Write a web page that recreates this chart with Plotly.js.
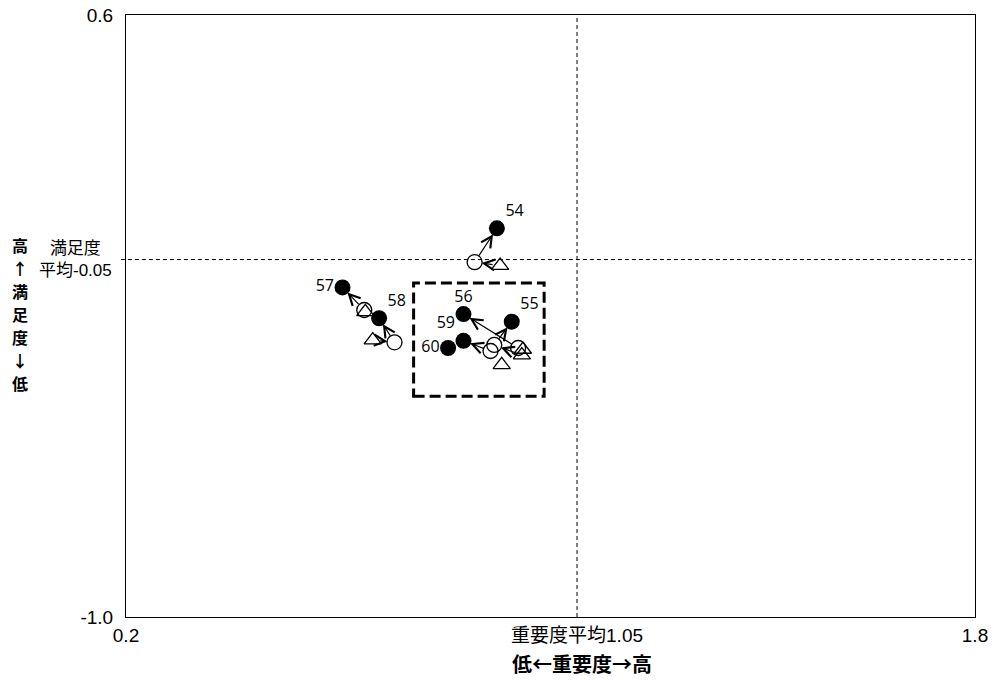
<!DOCTYPE html>
<html>
<head>
<meta charset="utf-8">
<script src="https://cdn.plot.ly/plotly-3.0.1.min.js"></script>
<style>html,body{margin:0;padding:0;background:#fff;}#chart{width:997px;height:680px;}</style>
</head>
<body>
<div id="chart"></div>
<script>
// Item labels
const labels = ['54','55','56','57','58','59','60'];
// Current year (filled circles)
const curX = [0.899, 0.927, 0.836, 0.608, 0.677, 0.836, 0.807];
const curY = [0.033, -0.215, -0.195, -0.124, -0.206, -0.266, -0.285];
// Previous year (open circles)
const prevX = [0.857, 0.894, 0.939, 0.649, 0.706, 0.887, null];
const prevY = [-0.057, -0.277, -0.285, -0.184, -0.270, -0.293, null];
// Two years ago (open triangles)
const prev2X = [0.905, 0.946, 0.948, 0.651, 0.665, 0.908, null];
const prev2Y = [-0.066, -0.304, -0.289, -0.189, -0.264, -0.330, null];
const labelPos = ['top right','top right','top center','middle left','top right','top left','middle left'];
// Averages and axis ranges
const avgX = 1.05, avgY = -0.05;
const xRange = [0.2, 1.8], yRange = [-1.0, 0.6];
const xTickVals = [0.2, 1.05, 1.8];
const xTickText = ['0.2', '重要度平均1.05', '1.8'];
const yTickVals = [0.6, -1.0];
const yTickText = ['0.6', '-1.0'];
const yAvgText = '満足度<br>平均-0.05';
const yTitleChars = ['高','↑','満','足','度','↓','低'];
const xTitle = '低←重要度→高';
// Focus box
const boxX = [0.742, 0.988], boxY = [-0.413, -0.112];

const FONT = 'Liberation Sans, Arial, Noto Sans CJK JP, sans-serif';
const traces = [
  {x: prev2X, y: prev2Y, mode: 'markers', type: 'scatter',
   marker: {symbol: 'triangle-up-open', size: 15, color: '#000', line: {width: 1.3}}},
  {x: prevX, y: prevY, mode: 'markers', type: 'scatter',
   marker: {symbol: 'circle-open', size: 15, color: '#000', line: {width: 1.3, color: '#000'}}},
  {x: curX, y: curY, mode: 'markers', type: 'scatter',
   marker: {symbol: 'circle', size: 16, color: '#000'}},
  {x: curX, y: curY, mode: 'markers+text', type: 'scatter', text: labels,
   textposition: labelPos, textfont: {family: 'Open Sans, sans-serif', size: 16, color: '#000'},
   marker: {symbol: 'circle', size: 12, color: 'rgba(0,0,0,0)'}},
];

const annotations = [];
function arrow(x0, y0, x1, y1) {
  if (x0 == null || x1 == null) return;
  annotations.push({x: x1, y: y1, ax: x0, ay: y0, xref: 'x', yref: 'y', axref: 'x', ayref: 'y',
    showarrow: true, arrowhead: 5, arrowsize: 1.8, arrowwidth: 1.2, arrowcolor: '#000',
    standoff: 7, startstandoff: 6, text: ''});
}
for (let i = 0; i < labels.length; i++) {
  arrow(prev2X[i], prev2Y[i], prevX[i], prevY[i]);
  arrow(prevX[i], prevY[i], curX[i], curY[i]);
}
annotations.push({xref: 'paper', yref: 'y', x: -0.060, y: avgY, text: yAvgText,
  showarrow: false, xanchor: 'center', yanchor: 'middle', align: 'center',
  font: {family: FONT, size: 17, color: '#000'}});
const titleYs = [0.6185, 0.5803, 0.5421, 0.5039, 0.4657, 0.4275, 0.3893];
yTitleChars.forEach((c, i) => {
  annotations.push({xref: 'paper', yref: 'paper', x: -0.125, y: titleYs[i],
    text: '<b>' + c + '</b>', showarrow: false, xanchor: 'center', yanchor: 'middle',
    font: {family: 'Noto Sans CJK JP, sans-serif', size: 16, color: '#000'}});
});
annotations.push({xref: 'paper', yref: 'paper', x: 0.537, y: -0.077,
  text: '<b>' + xTitle + '</b>', showarrow: false, xanchor: 'center', yanchor: 'middle',
  font: {family: 'Noto Sans CJK JP, sans-serif', size: 20, color: '#000'}});

const shapes = [
  {type: 'line', xref: 'x', yref: 'y', x0: avgX, x1: avgX, y0: yRange[0], y1: yRange[1],
   line: {color: '#000', width: 1, dash: '4px,3px'}},
  {type: 'line', xref: 'paper', yref: 'y', x0: -0.006, x1: 1, y0: avgY, y1: avgY,
   line: {color: '#000', width: 1, dash: '4px,3px'}},
  {type: 'rect', xref: 'x', yref: 'y', x0: boxX[0], x1: boxX[1], y0: boxY[0], y1: boxY[1],
   line: {color: '#000', width: 3, dash: '11px,5px'}},
];

const layout = {
  width: 997, height: 680,
  margin: {l: 126, r: 22, t: 15, b: 63},
  paper_bgcolor: '#fff', plot_bgcolor: '#fff',
  showlegend: false,
  font: {family: FONT, size: 16, color: '#000'},
  xaxis: {range: xRange, showgrid: false, zeroline: false, showline: true, mirror: true,
    linecolor: '#000', linewidth: 1, ticks: '', tickvals: xTickVals, ticktext: xTickText,
    ticklabelstandoff: 1, tickfont: {family: FONT, size: 19, color: '#000'}},
  yaxis: {range: yRange, showgrid: false, zeroline: false, showline: true, mirror: true,
    linecolor: '#000', linewidth: 1, ticks: '', tickvals: yTickVals, ticktext: yTickText,
    ticklabelstandoff: 8, tickfont: {family: FONT, size: 19, color: '#000'}},
  shapes: shapes,
  annotations: annotations,
};
Plotly.newPlot('chart', traces, layout, {displayModeBar: false, staticPlot: true});
</script>
</body>
</html>
